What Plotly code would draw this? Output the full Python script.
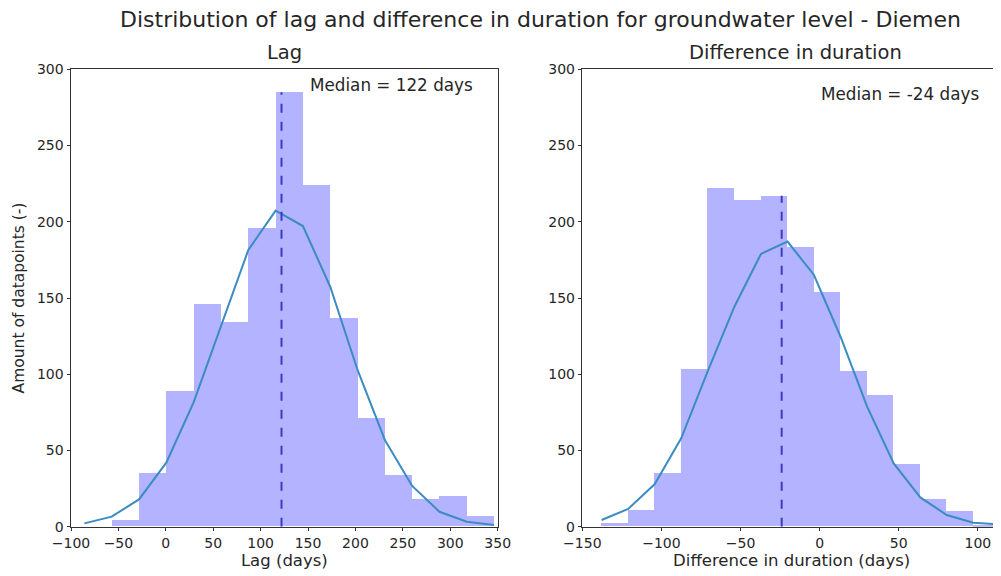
import numpy as np
import plotly.graph_objects as go

# histogram bin edges and counts
lag_edges = [-85.9, -57.1, -28.3, 0.5, 29.3, 58.1, 87.0, 115.8, 144.6,
             173.4, 202.2, 231.0, 259.8, 288.6, 317.4, 346.2]
lag_counts = [0, 4, 35, 89, 146, 134, 196, 285, 224, 137, 71, 34, 18, 20, 7]
lag_curve = [2.2, 6.6, 17.9, 42, 81.6, 131, 181.5, 207.3, 197.2, 157.4,
             102.8, 56.9, 26.7, 9.8, 3.3, 1.1]
lag_median = 122

dur_edges = [-137.8, -121.0, -104.2, -87.5, -70.7, -53.9, -37.1, -20.3, -3.6,
             13.2, 30.0, 46.8, 63.6, 80.3, 97.1, 113.9]
dur_counts = [2, 11, 35, 103, 222, 214, 217, 183, 154, 102, 86, 41, 18, 10, 1]
dur_curve = [4.4, 11.6, 28, 58, 102, 144.3, 178.9, 187, 165.1, 124.6, 78.7,
             41.5, 19.2, 7.7, 2.6, 1.5]
dur_median = -24

BAR = "#b3b3ff"
CURVE = "#3a8cc2"
MED = "#3c3cc0"
FONT = "DejaVu Sans"
INK = "#262626"

fig = go.Figure()


def add_panel(edges, counts, curve, median, xa, ya):
    edges = np.array(edges)
    fig.add_trace(go.Bar(
        x=edges[:-1], y=counts, width=np.diff(edges), offset=0,
        marker=dict(color=BAR, line=dict(width=0)),
        xaxis=xa, yaxis=ya, showlegend=False,
    ))
    fig.add_trace(go.Scatter(
        x=edges, y=curve, mode="lines", line=dict(color=CURVE, width=2),
        xaxis=xa, yaxis=ya, showlegend=False,
    ))
    idx = np.searchsorted(edges, median) - 1
    fig.add_trace(go.Scatter(
        x=[median, median], y=[0, counts[idx]], mode="lines",
        line=dict(color=MED, width=2, dash="dash"),
        xaxis=xa, yaxis=ya, showlegend=False,
    ))


add_panel(lag_edges, lag_counts, lag_curve, lag_median, "x", "y")
add_panel(dur_edges, dur_counts, dur_curve, dur_median, "x2", "y2")

# page has an 8px body margin, so the figure is a bit smaller than the window
OFF = 8
W, H = 1001 - OFF, 576 - OFF


def px_x(p):
    return (p - OFF) / W


def px_y(p):
    return 1 - (p - OFF) / H


axis_common = dict(
    showgrid=False, zeroline=False, showline=True, linecolor="#333333",
    linewidth=1, ticks="outside", ticklen=3.5, tickcolor="#333333",
    tickfont=dict(family=FONT, size=14, color=INK), automargin=False,
)
label_font = dict(size=16.5, color=INK)

fig.update_layout(
    width=W, height=H,
    margin=dict(l=0, r=0, t=0, b=0, autoexpand=False),
    plot_bgcolor="white", paper_bgcolor="white",
    font=dict(family=FONT, color=INK),
    bargap=0,
    xaxis=dict(axis_common, domain=[px_x(71), px_x(497.7)], range=[-100, 350],
               dtick=50, mirror=True, anchor="y",
               title=dict(text="Lag (days)", standoff=1, font=label_font)),
    yaxis=dict(axis_common, domain=[px_y(526.7), px_y(69.3)],
               range=[0, 300], dtick=50, mirror=True, anchor="x",
               title=dict(text="Amount of datapoints (-)", standoff=8,
                          font=dict(size=15.5, color=INK))),
    xaxis2=dict(axis_common, domain=[px_x(582.3), 1.0], range=[-150, 114.6],
                dtick=50, mirror=True, anchor="y2",
                title=dict(text="Difference in duration (days)", standoff=1,
                           font=label_font)),
    yaxis2=dict(axis_common, domain=[px_y(526.7), px_y(69.3)],
                range=[0, 300], dtick=50, mirror=False, anchor="x2"),
    annotations=[
        dict(text="Distribution of lag and difference in duration for groundwater level - Diemen",
             x=px_x(540), y=px_y(19), xref="paper", yref="paper",
             xanchor="center", yanchor="middle", showarrow=False,
             font=dict(size=22, color=INK)),
        dict(text="Lag", x=px_x(284), y=px_y(53), xref="paper", yref="paper",
             xanchor="center", yanchor="middle", showarrow=False,
             font=dict(size=19.5, color=INK)),
        dict(text="Difference in duration", x=px_x(795), y=px_y(53),
             xref="paper", yref="paper", xanchor="center", yanchor="middle",
             showarrow=False, font=dict(size=19.5, color=INK)),
        dict(text=f"Median = {lag_median} days", x=150, y=290, xref="x",
             yref="y", xanchor="left", yanchor="middle", showarrow=False,
             font=dict(size=16.8, color=INK)),
        dict(text=f"Median = {dur_median} days", x=-0.4, y=284, xref="x2",
             yref="y2", xanchor="left", yanchor="middle", showarrow=False,
             font=dict(size=16.8, color=INK)),
    ],
)

fig.write_html("out.html")
